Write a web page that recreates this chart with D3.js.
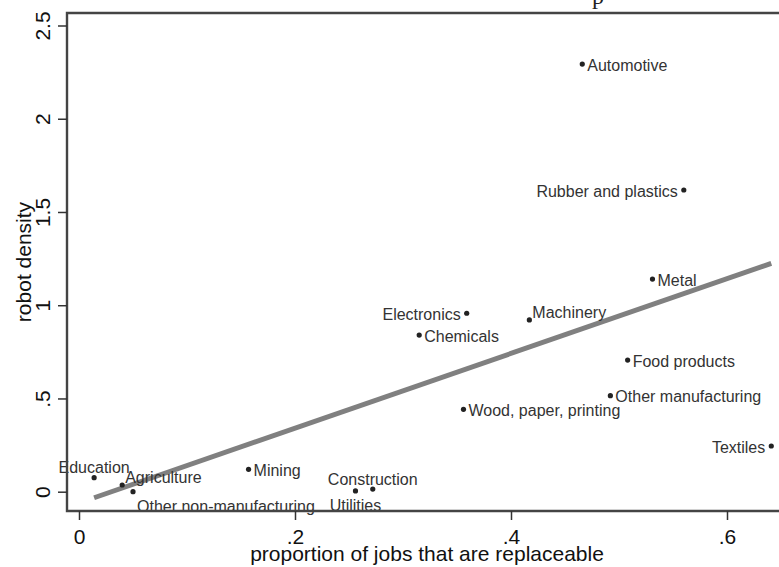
<!DOCTYPE html>
<html>
<head>
<meta charset="utf-8">
<script src="https://cdn.jsdelivr.net/npm/d3@7"></script>
<style>
  html, body { margin: 0; padding: 0; background: #fff; }
  svg { display: block; }
</style>
</head>
<body>
<svg id="chart" width="779" height="567"></svg>
<script>
// Industries: share of jobs that are replaceable vs. robot density
const industries = [
  "Automotive", "Rubber and plastics", "Metal", "Electronics", "Machinery",
  "Chemicals", "Food products", "Other manufacturing", "Wood, paper, printing",
  "Textiles", "Education", "Agriculture", "Other non-manufacturing",
  "Mining", "Construction", "Utilities"
];
const replaceable = [
  0.466, 0.560, 0.531, 0.359, 0.417,
  0.315, 0.508, 0.492, 0.356,
  0.641, 0.014, 0.040, 0.050,
  0.157, 0.272, 0.256
];
const robotDensity = [
  2.293, 1.618, 1.140, 0.957, 0.921,
  0.840, 0.706, 0.515, 0.442,
  0.245, 0.075, 0.036, 0.000,
  0.120, 0.014, 0.004
];
const xTicks = [0, 0.2, 0.4, 0.6];
const xTickLabels = ["0", ".2", ".4", ".6"];
const yTicks = [0, 0.5, 1, 1.5, 2, 2.5];
const yTickLabels = ["0", ".5", "1", "1.5", "2", "2.5"];

// Marker-label placement as clock positions (3 = right, 9 = left, 12 = above ...)
const labelClock = [3, 9, 3, 9, 2, 3, 3, 3, 3, 9, 12, 2, 4, 3, 12, 6];

const svg = d3.select("#chart");
const FONT = "'Liberation Sans', Arial, Helvetica, sans-serif";

const x = d3.scaleLinear().domain([0, 0.6]).range([79, 727]);
const y = d3.scaleLinear().domain([0, 2.5]).range([491.7, 25.5]);

const frame = { left: 67, top: 13, bottom: 511, right: 800 };

// Title (runs off the top edge of the canvas)
svg.append("text")
  .attr("x", 598).attr("y", 4)
  .attr("text-anchor", "middle")
  .attr("font-family", "'Liberation Serif', 'Times New Roman', serif")
  .attr("font-size", 24).attr("fill", "#222")
  .text("p");

// Least-squares fit line over the observed x range
const pts = industries.map((name, i) => ({ name, x: replaceable[i], y: robotDensity[i], pos: labelClock[i] }));
const mx = d3.mean(pts, d => d.x), my = d3.mean(pts, d => d.y);
const slope = d3.sum(pts, d => (d.x - mx) * (d.y - my)) / d3.sum(pts, d => (d.x - mx) ** 2);
const intercept = my - slope * mx;
const [x0, x1] = d3.extent(pts, d => d.x);
svg.append("line")
  .attr("x1", x(x0)).attr("y1", y(intercept + slope * x0))
  .attr("x2", x(x1)).attr("y2", y(intercept + slope * x1))
  .attr("stroke", "#808080").attr("stroke-width", 5);

// Markers
svg.append("g").selectAll("circle").data(pts).join("circle")
  .attr("cx", d => x(d.x)).attr("cy", d => y(d.y))
  .attr("r", 2.6).attr("fill", "#222");

// Marker labels
const offsets = {
  3:  { dx: 5,  dy: 1,   anchor: "start" },
  9:  { dx: -6, dy: 1,   anchor: "end" },
  12: { dx: 0,  dy: -10, anchor: "middle" },
  6:  { dx: 0,  dy: 14,  anchor: "middle" },
  2:  { dx: 3,  dy: -8,  anchor: "start" },
  4:  { dx: 4,  dy: 15,  anchor: "start" }
};
svg.append("g").selectAll("text").data(pts).join("text")
  .attr("x", d => x(d.x) + offsets[d.pos].dx)
  .attr("y", d => y(d.y) + offsets[d.pos].dy)
  .attr("dy", "0.35em")
  .attr("text-anchor", d => offsets[d.pos].anchor)
  .attr("font-family", FONT).attr("font-size", 16).attr("fill", "#333")
  .text(d => d.name);

// Plot frame
svg.append("path")
  .attr("d", `M${frame.right},${frame.top}H${frame.left}V${frame.bottom}H${frame.right}`)
  .attr("fill", "none").attr("stroke", "#444").attr("stroke-width", 2.4);

// Y axis
const gy = svg.append("g").attr("transform", `translate(${frame.left},0)`)
  .call(d3.axisLeft(y).tickValues(yTicks).tickFormat((d, i) => yTickLabels[i]).tickSize(9));
gy.select(".domain").remove();
gy.selectAll(".tick line").attr("stroke", "#333").attr("stroke-width", 1.5);
gy.selectAll(".tick text")
  .attr("x", 0).attr("y", 0).attr("dy", 0)
  .attr("text-anchor", "middle")
  .attr("transform", `translate(${50 - frame.left},0) rotate(-90)`)
  .attr("font-family", FONT).attr("font-size", 21).attr("fill", "#111");

// X axis
const gx = svg.append("g").attr("transform", `translate(0,${frame.bottom})`)
  .call(d3.axisBottom(x).tickValues(xTicks).tickFormat((d, i) => xTickLabels[i]).tickSize(9));
gx.select(".domain").remove();
gx.selectAll(".tick line").attr("stroke", "#333").attr("stroke-width", 1.5);
gx.selectAll(".tick text")
  .attr("y", 544 - frame.bottom).attr("dy", 0)
  .attr("font-family", FONT).attr("font-size", 21).attr("fill", "#111");

// Axis titles
svg.append("text")
  .attr("x", 427).attr("y", 561)
  .attr("text-anchor", "middle")
  .attr("font-family", FONT).attr("font-size", 21).attr("fill", "#111")
  .text("proportion of jobs that are replaceable");

svg.append("text")
  .attr("transform", "translate(31,262) rotate(-90)")
  .attr("text-anchor", "middle")
  .attr("font-family", FONT).attr("font-size", 21).attr("fill", "#111")
  .text("robot density");
</script>
</body>
</html>
